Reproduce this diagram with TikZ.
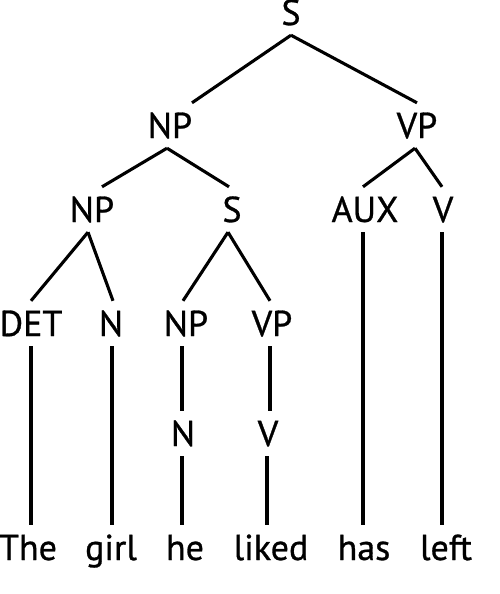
\documentclass[tikz,border=0pt]{standalone}
\usepackage{fontspec}
\setmainfont{PT Sans}
\newfontfamily\labfont{PT Sans}[FakeBold=0.8]
\begin{document}
\begin{tikzpicture}[x=1pt,y=-1pt,
  lab/.style={anchor=base,inner sep=0pt,font=\labfont\fontsize{36}{40}\selectfont,
    text height=35pt,text depth=10pt},
  edge/.style={line width=3.1pt}]
\useasboundingbox (0,0) rectangle (500,594);
% labels (x = centre, y = baseline)
\node[lab] (s)    at (291,25)  {S};
\node[lab] (np)   at (170,138) {NP};
\node[lab] (vp)   at (417,138) {VP};
\node[lab] (np2)  at (92,222)  {NP};
\node[lab] (s2)   at (232,222) {S};
\node[lab] (aux)  at (365,222) {AUX};
\node[lab] (v)    at (443,222) {V};
\node[lab] (det)  at (31,336)  {DET};
\node[lab] (n)    at (111,336) {N};
\node[lab] (np3)  at (186,336) {NP};
\node[lab] (vp3)  at (272,336) {VP};
\node[lab] (n4)   at (183,446) {N};
\node[lab] (v4)   at (268,446) {V};
\node[lab] (wthe)   at (28,560)  {The};
\node[lab] (wgirl)  at (111,560) {girl};
\node[lab] (whe)    at (185,560) {he};
\node[lab] (wliked) at (271,560) {liked};
\node[lab] (whas)   at (364,560) {has};
\node[lab] (wleft)  at (446,560) {left};
% edges
\draw[edge] (s.south) -- ([xshift=22pt]np.north);
\draw[edge] (s.south) -- (vp.north);
\draw[edge] ([xshift=-3pt]np.south) -- ([xshift=10pt]np2.north);
\draw[edge] ([xshift=-3pt]np.south) -- ([xshift=-3pt]s2.north);
\draw[edge] ([xshift=-2pt]vp.south) -- ([xshift=-2pt]aux.north);
\draw[edge] ([xshift=-2pt]vp.south) -- ([xshift=-1pt]v.north);
\draw[edge] ([xshift=-4pt]np2.south) -- (det.north);
\draw[edge] ([xshift=-4pt]np2.south) -- ([xshift=2pt]n.north);
\draw[edge] ([xshift=-4pt]s2.south) -- ([xshift=-3pt]np3.north);
\draw[edge] ([xshift=-4pt]s2.south) -- ([xshift=-2pt]vp3.north);
\draw[edge] ([xshift=-2pt]aux.south) -- ([xshift=-1pt]whas.north);
\draw[edge] ([xshift=-1pt]v.south) -- ([xshift=-4pt]wleft.north);
\draw[edge] (det.south) -- ([xshift=3pt]wthe.north);
\draw[edge] ([xshift=1pt]n.south) -- ([xshift=1pt]wgirl.north);
\draw[edge] ([xshift=-4pt]np3.south) -- ([xshift=-1pt]n4.north);
\draw[edge] ([xshift=-2pt]vp3.south) -- ([xshift=2pt]v4.north);
\draw[edge] ([xshift=-1pt]n4.south) -- ([xshift=-3pt]whe.north);
\draw[edge] ([xshift=-1pt]v4.south) -- ([xshift=-4pt]wliked.north);
\end{tikzpicture}
\end{document}
